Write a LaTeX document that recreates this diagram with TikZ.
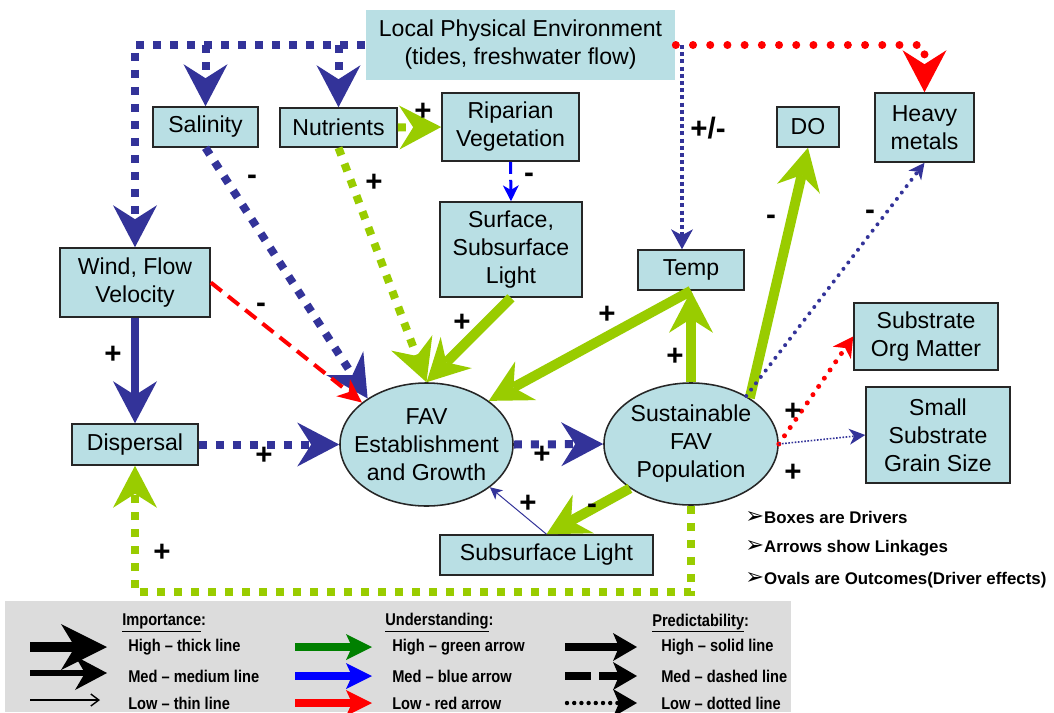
\documentclass[tikz,border=0pt]{standalone}
\usepackage{fontspec}
\setmainfont{Liberation Sans}
\newfontfamily\legfont[FakeStretch=0.86]{Liberation Sans}
\newfontfamily\symfont{DejaVu Sans}
\usetikzlibrary{arrows.meta,shapes.geometric}
\definecolor{boxfill}{HTML}{B9DFE4}
\definecolor{fblue}{HTML}{333399}
\definecolor{fgreen}{HTML}{99CC00}
\definecolor{fred}{HTML}{FF0000}
\definecolor{bblue}{HTML}{0000FF}
\definecolor{lgray}{HTML}{DCDCDC}
\definecolor{lgreen}{HTML}{008000}
\tikzset{
  txt/.style={font=\fontsize{16.4pt}{19.9pt}\selectfont, align=center, text=black},
  drv/.style={txt, rectangle, fill=boxfill, draw=black!85, line width=1.1pt, inner sep=0pt},
  outc/.style={ellipse, fill=boxfill, draw=black!85, line width=1.1pt, inner sep=0pt},
  sign/.style={font=\fontsize{21pt}{21pt}\selectfont\bfseries, inner sep=0pt},
  bullet/.style={font=\fontsize{12pt}{14pt}\selectfont\bfseries, anchor=west, inner sep=0pt},
  legtxt/.style={font=\legfont\fontsize{12.1pt}{14pt}\selectfont\bfseries, anchor=west, inner sep=0pt},
  headL/.style={-{Stealth[length=1.05cm,width=1.1cm,inset=0.35cm,line width=0pt]}},
  headM/.style={-{Stealth[length=0.6cm,width=0.55cm,inset=0.18cm,line width=0pt]}},
  headS/.style={-{Stealth[length=0.5cm,width=0.55cm,inset=0.15cm,line width=0pt]}},
  headXS/.style={-{Stealth[length=0.4cm,width=0.4cm,inset=0.12cm,line width=0pt]}},
  headT/.style={-{Stealth[length=0.3cm,width=0.3cm,inset=0.08cm,line width=0pt]}},
  sqb/.style={draw=fblue, line width=0.2cm, dash pattern=on 0.2cm off 0.225cm},
  sqg/.style={draw=fgreen, line width=0.2cm, dash pattern=on 0.2cm off 0.225cm},
  solg/.style={draw=fgreen, line width=0.25cm},
  solb/.style={draw=fblue, line width=0.2cm},
  dotbsq/.style={draw=fblue, line width=0.1cm, dash pattern=on 0.1cm off 0.08cm},
  dotrbig/.style={draw=fred, line width=0.2cm, line cap=round, dash pattern=on 0pt off 0.43cm},
  dotbrnd/.style={draw=fblue, line width=0.1cm, line cap=round, dash pattern=on 0pt off 0.2cm},
  dotrrnd/.style={draw=fred, line width=0.125cm, line cap=round, dash pattern=on 0pt off 0.25cm},
  dotbthin/.style={draw=fblue, line width=0.04cm, dash pattern=on 0.04cm off 0.04cm},
  dashr/.style={draw=fred, line width=0.1cm, dash pattern=on 0.35cm off 0.2cm},
  dashbb/.style={draw=bblue, line width=0.075cm, dash pattern=on 0.3cm off 0.15cm},
  thinb/.style={draw=fblue, line width=0.025cm},
}
\newcommand{\bul}{{\symfont\fontsize{16pt}{16pt}\selectfont ➢}}
\begin{document}
\begin{tikzpicture}[x=0.025cm,y=-0.025cm]
\useasboundingbox (0,0) rectangle (1054,712);
\fill[white] (0,0) rectangle (1054,712);

% legend background
\node[fill=lgray, minimum width=19.65cm, minimum height=2.775cm, inner sep=0pt] (legend) at (398,656.5) {};

% drivers
\node[drv, draw=none, minimum width=7.725cm, minimum height=1.75cm] (lpe) at (520.5,45) {Local Physical Environment\\(tides, freshwater flow)};
\node[drv, minimum width=2.625cm, minimum height=1cm] (sal) at (205.5,127) {Salinity};
\node[drv, minimum width=2.925cm, minimum height=0.975cm] (nut) at (338.5,127.5) {Nutrients};
\node[drv, minimum width=3.425cm, minimum height=1.7cm] (rip) at (510.5,127) {Riparian\\Vegetation};
\node[drv, minimum width=3.55cm, minimum height=2.375cm] (surf) at (511,249.5) {Surface,\\Subsurface\\Light};
\node[drv, minimum width=2.65cm, minimum height=1cm] (temp) at (691,270) {Temp};
\node[drv, minimum width=1.55cm, minimum height=1cm] (do) at (808,127) {DO};
\node[drv, minimum width=2.475cm, minimum height=1.725cm] (hm) at (924.5,127.5) {Heavy\\metals};
\node[drv, minimum width=3.75cm, minimum height=1.725cm] (wind) at (135,282.5) {Wind, Flow\\Velocity};
\node[drv, minimum width=3.15cm, minimum height=1.025cm] (disp) at (135,444.5) {Dispersal};
\node[drv, minimum width=5.325cm, minimum height=1cm] (sub) at (546.5,555) {Subsurface Light};
\node[drv, minimum width=3.6cm, minimum height=1.675cm] (som) at (926,336.5) {Substrate\\Org Matter};
\node[drv, minimum width=3.6cm, minimum height=2.4cm] (ssg) at (938,435) {Small\\Substrate\\Grain Size};

% outcomes
\node[outc, minimum width=4.325cm, minimum height=3.075cm, label={[txt]center:FAV\\Establishment\\and Growth}] (fav) at (426.5,444.5) {};
\node[outc, minimum width=4.35cm, minimum height=3.05cm, label={[txt]center:Sustainable\\FAV\\Population}] (sust) at (691,444) {};

% connectors
\draw[sqb, headL] (lpe.west) -| (wind.north);
\draw[sqb, headL] (lpe.west -| sal.north) -- (sal.north);
\draw[sqb, headL] (lpe.west -| nut.north) -- (nut.north);
\coordinate (lpeT) at (682,45);
\draw[dotbsq, headS] (lpeT) -- (lpeT |- temp.north);
\draw[dotrbig, headL] (lpe.east) -| (hm.north);

\draw[sqb, headL] (sal.south) -- (fav.142);
\draw[sqg, headL] (nut.south) -- (fav.north);
\draw[sqg, headL] (nut.east) -- (rip.west);
\draw[dashbb, headXS] (rip.south) -- (surf.north);
\draw[solg, headL] (surf.south) -- (fav.north);
\draw[solg, headL] (temp.south) -- (fav.35);
\draw[solg, headL] (sust.north) -- (temp.south);
\draw[solg, headL] (sust.38) -- (do.south);
\draw[dotbrnd, headXS] (sust.41) -- (hm.south);
\draw[dashr, headM] (wind.east) -- (fav.147);
\draw[solb, headL] (wind.south) -- (disp.north);
\draw[sqb, headL] (disp.east) -- (fav.west);
\draw[sqb, headL] (fav.east) -- (sust.west);
\draw[solg, headL] (sust.216) -- (sub.north);
\draw[thinb, headT] (sub.north) -- (fav.-34);
\coordinate (loop) at (135,592);
\draw[sqg, headL] (sust.south) |- (loop) -- (disp.south);
\draw[dotrrnd, headS] (sust.east) -- (som.west);
\draw[dotbthin, headXS] (sust.east) -- (ssg.west);

% signs
\node[sign] (s1) at (252,180) {-};
\node[sign] (s2) at (374,183) {+};
\node[sign] (s3) at (423,112) {+};
\node[sign] (s4) at (529,178) {-};
\node[sign] (s5) at (708,128) {+/-};
\node[sign] (s6) at (771,220) {-};
\node[sign] (s7) at (870,215) {-};
\node[sign] (s8) at (261,308) {-};
\node[sign] (s9) at (113,355) {+};
\node[sign] (s10) at (462,323) {+};
\node[sign] (s11) at (607,315) {+};
\node[sign] (s12) at (675,357) {+};
\node[sign] (s13) at (264,456) {+};
\node[sign] (s14) at (542,455) {+};
\node[sign] (s15) at (592,509) {-};
\node[sign] (s16) at (528,504) {+};
\node[sign] (s17) at (162,553) {+};
\node[sign] (s18) at (793,412) {+};
\node[sign] (s19) at (793,473) {+};

% notes
\node[bullet] (n1) at (745,517) {\bul Boxes are Drivers};
\node[bullet] (n2) at (745,548) {\bul Arrows show Linkages};
\node[bullet] (n3) at (745,580) {\bul Ovals are Outcomes(Driver effects)};

% legend content
\node[legtxt] (h1) at (122,623) {\underline{Importance}:};
\node[legtxt] (h2) at (385,623) {\underline{Understanding}:};
\node[legtxt] (h3) at (652,623) {\underline{Predictability}:};
\node[legtxt] (t11) at (128,647) {High – thick line};
\node[legtxt] (t12) at (128,676) {Med – medium line};
\node[legtxt] (t13) at (128,703) {Low – thin line};
\node[legtxt] (t21) at (392,647) {High – green arrow};
\node[legtxt] (t22) at (392,676) {Med – blue arrow};
\node[legtxt] (t23) at (392,703) {Low - red arrow};
\node[legtxt] (t31) at (661,647) {High – solid line};
\node[legtxt] (t32) at (661,676) {Med – dashed line};
\node[legtxt] (t33) at (661,703) {Low – dotted line};

\coordinate (a1s) at (30,647); \coordinate (a1e) at (107,647);
\coordinate (a2s) at (30,673); \coordinate (a2e) at (107,673);
\coordinate (a3s) at (30,700); \coordinate (a3e) at (100,700);
\draw[black, line width=0.25cm, -{Stealth[length=1.15cm,width=1.15cm,inset=0.35cm,line width=0pt]}] (a1s) -- (a1e);
\draw[black, line width=0.15cm, -{Stealth[length=0.8cm,width=0.85cm,inset=0.25cm,line width=0pt]}] (a2s) -- (a2e);
\draw[black, line width=0.035cm, -{Straight Barb[length=0.2cm,width=0.3cm]}] (a3s) -- (a3e);

\coordinate (b1s) at (295,647); \coordinate (b1e) at (372,647);
\coordinate (b2s) at (295,676); \coordinate (b2e) at (372,676);
\coordinate (b3s) at (295,703); \coordinate (b3e) at (372,703);
\draw[lgreen, line width=0.18cm, -{Stealth[length=0.65cm,width=0.65cm,inset=0.15cm,line width=0pt]}] (b1s) -- (b1e);
\draw[bblue, line width=0.18cm, -{Stealth[length=0.65cm,width=0.65cm,inset=0.15cm,line width=0pt]}] (b2s) -- (b2e);
\draw[fred, line width=0.18cm, -{Stealth[length=0.65cm,width=0.65cm,inset=0.15cm,line width=0pt]}] (b3s) -- (b3e);

\coordinate (c1s) at (565,647); \coordinate (c1e) at (637,647);
\coordinate (c2s) at (565,676); \coordinate (c2e) at (637,676);
\coordinate (c3s) at (567,703); \coordinate (c3e) at (637,703);
\draw[black, line width=0.18cm, -{Stealth[length=0.6cm,width=0.7cm,inset=0.15cm,line width=0pt]}] (c1s) -- (c1e);
\draw[black, line width=0.18cm, dash pattern=on 0.65cm off 0.2cm, -{Stealth[length=0.6cm,width=0.7cm,inset=0.15cm,line width=0pt]}] (c2s) -- (c2e);
\draw[black, line width=0.11cm, line cap=round, dash pattern=on 0pt off 0.18cm, -{Stealth[length=0.6cm,width=0.7cm,inset=0.15cm,line width=0pt]}] (c3s) -- (c3e);
\end{tikzpicture}
\end{document}
